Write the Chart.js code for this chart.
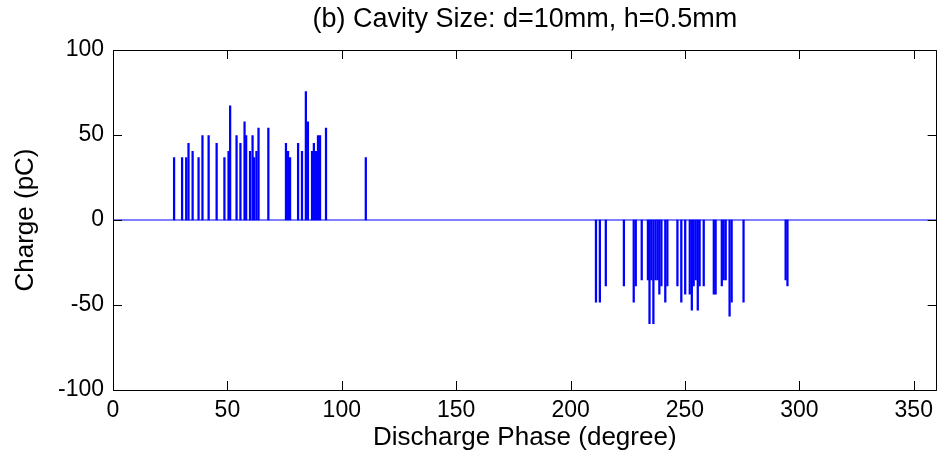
<!DOCTYPE html>
<html>
<head>
<meta charset="utf-8">
<script src="https://cdn.jsdelivr.net/npm/chart.js@4.4.0/dist/chart.umd.min.js"></script>
<style>
  html, body { margin: 0; padding: 0; background: #fff; }
  #wrap { width: 940px; height: 463px; position: relative; }
</style>
</head>
<body>
<div id="wrap"><canvas id="c" width="940" height="463"></canvas></div>
<script>
// ---- data ----
const chartTitle = "(b) Cavity Size: d=10mm, h=0.5mm";
const xTitle = "Discharge Phase (degree)";
const yTitle = "Charge (pC)";
const xTicks = [0, 50, 100, 150, 200, 250, 300, 350];
const yTicks = [-100, -50, 0, 50, 100];

const posPhase = [26.7,30.2,32.0,33.0,34.8,37.4,39.1,41.8,45.3,48.7,
                  50.5,51.2,54.0,55.7,57.5,58.2,59.9,61.0,61.7,62.7,
                  63.6,67.9,75.6,76.5,77.4,80.9,82.6,84.3,85.2,87.0,
                  87.8,88.7,89.6,90.5,93.1,110.5];
const posCharge = [36.7,36.7,36.7,45.1,40.4,36.7,49.6,49.6,45.1,36.7,
                   40.4,67.2,49.6,45.1,57.8,49.6,40.4,49.6,36.7,40.4,
                   54.1,54.1,45.1,40.4,36.7,45.1,40.4,75.5,57.8,40.4,
                   45.1,40.4,49.6,49.6,54.1,36.7];
const negPhase = [211.1,212.8,215.4,223.3,227.6,228.5,231.1,233.8,234.5,235.3,
                  236.2,237.1,238.0,238.8,239.7,241.4,242.3,246.7,248.4,250.1,
                  252.1,253.0,253.8,254.7,255.6,256.4,258.2,262.6,263.4,266.1,
                  266.9,267.8,269.5,270.4,275.6,294.0,294.8];
const negCharge = [-48.4,-48.4,-38.8,-38.8,-48.4,-38.8,-35.3,-35.3,-61,-35.3,
                   -61,-35.3,-35.3,-43.7,-38.8,-48.4,-38.8,-38.8,-48.4,-43.7,
                   -43.7,-53,-38.8,-35.3,-53,-38.8,-38.8,-43.7,-43.7,-38.8,
                   -35.3,-35.3,-56.6,-48.4,-48.4,-35.3,-38.8];
const baseline = [{x: 0, y: 0}, {x: 360, y: 0}];

// ---- build ----
const stems = posPhase.map((p, i) => ({x: p, y: posCharge[i]}))
  .concat(negPhase.map((p, i) => ({x: p, y: negCharge[i]})));

const FONT = "'Liberation Sans', Arial, Helvetica, sans-serif";

const boxPlugin = {
  id: 'boxTicks',
  afterDraw(chart) {
    const {ctx, chartArea: a, scales} = chart;
    const tl = 9;
    ctx.save();
    ctx.strokeStyle = '#000';
    ctx.lineWidth = 1;
    ctx.beginPath();
    ctx.rect(Math.round(a.left) + 0.5, Math.round(a.top) + 0.5,
             Math.round(a.right - a.left) - 1, Math.round(a.bottom - a.top));
    xTicks.forEach(v => {
      const px = Math.round(scales.x.getPixelForValue(v)) + 0.5;
      ctx.moveTo(px, a.bottom); ctx.lineTo(px, a.bottom - tl);
      ctx.moveTo(px, a.top); ctx.lineTo(px, a.top + tl);
    });
    yTicks.forEach(v => {
      const py = Math.round(scales.y.getPixelForValue(v)) + 0.5;
      ctx.moveTo(a.left, py); ctx.lineTo(a.left + tl, py);
      ctx.moveTo(a.right, py); ctx.lineTo(a.right - tl, py);
    });
    ctx.stroke();
    // title centred over the plot area
    ctx.fillStyle = '#000';
    ctx.font = "27px " + FONT;
    ctx.textAlign = 'center';
    ctx.textBaseline = 'middle';
    ctx.fillText(chartTitle, (a.left + a.right) / 2, 20);
    ctx.restore();
  }
};

new Chart(document.getElementById('c'), {
  type: 'bar',
  data: {
    datasets: [
      {
        type: 'bar',
        data: stems,
        backgroundColor: '#0000ff',
        borderWidth: 0,
        barThickness: 1.6,
        order: 2
      },
      {
        type: 'line',
        data: baseline,
        borderColor: '#0000ff',
        borderWidth: 1.2,
        pointRadius: 0,
        fill: false,
        order: 1
      }
    ]
  },
  options: {
    responsive: false,
    animation: false,
    layout: { padding: { left: 0, right: 2, top: 50, bottom: 0 } },
    plugins: {
      legend: { display: false },
      tooltip: { enabled: false },
      title: { display: false }
    },
    scales: {
      x: {
        type: 'linear',
        min: 0, max: 360,
        offset: false,
        grid: { display: false, drawTicks: false },
        border: { display: false },
        afterBuildTicks: s => { s.ticks = xTicks.map(v => ({value: v})); },
        afterFit: s => { s.height = 73; },
        ticks: {
          color: '#000', padding: 7,
          font: { family: FONT, size: 23 },
          maxRotation: 0, autoSkip: false,
          callback: v => String(v)
        },
        title: {
          display: true, text: xTitle, color: '#000',
          font: { family: FONT, size: 26, lineHeight: 1.2 },
          padding: { top: 0, bottom: 9.5 }
        }
      },
      y: {
        type: 'linear',
        min: -100, max: 100,
        grid: { display: false, drawTicks: false },
        border: { display: false },
        afterBuildTicks: s => { s.ticks = yTicks.map(v => ({value: v})); },
        afterFit: s => { s.width = 113; },
        ticks: {
          color: '#000', padding: 9,
          font: { family: FONT, size: 23 },
          autoSkip: false,
          callback: v => String(v)
        },
        title: {
          display: true, text: yTitle, color: '#000',
          font: { family: FONT, size: 26, lineHeight: 1.2 },
          padding: { top: 10, bottom: 0 }
        }
      }
    }
  },
  plugins: [boxPlugin]
});
</script>
</body>
</html>
